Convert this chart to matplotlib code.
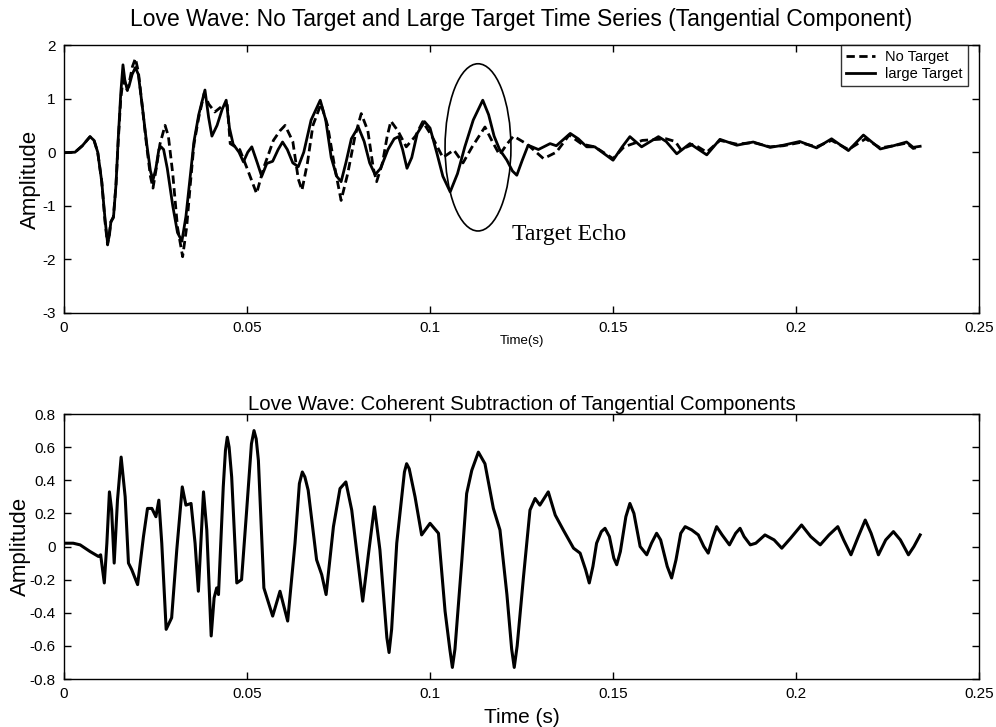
import numpy as np
import matplotlib.pyplot as plt
from matplotlib.patches import Ellipse

# top panel, large target (solid)
t_big = [0, 0.003, 0.005, 0.0071, 0.0082, 0.0092, 0.0103, 0.0112, 0.0119, 0.0124, 0.0128, 0.0135,
         0.0142, 0.0148, 0.0155, 0.0161, 0.0166, 0.0172, 0.0177, 0.0186, 0.0195, 0.0203, 0.0213,
         0.0226, 0.0236, 0.0243, 0.0251, 0.0259, 0.0265, 0.0272, 0.0282, 0.0297, 0.031, 0.0322,
         0.0333, 0.0344, 0.0355, 0.0368, 0.0385, 0.0395, 0.0404, 0.0418, 0.0432, 0.0443, 0.0452,
         0.0462, 0.0478, 0.049, 0.0502, 0.0513, 0.0528, 0.054, 0.0554, 0.057, 0.0585, 0.0597,
         0.061, 0.0625, 0.064, 0.0655, 0.0675, 0.07, 0.0715, 0.073, 0.0745, 0.0757, 0.077, 0.0785,
         0.0804, 0.082, 0.0835, 0.085, 0.0865, 0.0885, 0.0902, 0.0914, 0.0925, 0.0937, 0.095,
         0.0965, 0.0985, 0.1, 0.1018, 0.1035, 0.1055, 0.1075, 0.1095, 0.1118, 0.1144, 0.116,
         0.1175, 0.119, 0.121, 0.1225, 0.1237, 0.1252, 0.1268, 0.1296, 0.1328, 0.1345, 0.1383,
         0.1405, 0.1428, 0.145, 0.150, 0.1525, 0.1546, 0.1578, 0.1624, 0.1645, 0.1674, 0.171,
         0.1756, 0.1792, 0.1838, 0.1883, 0.1929, 0.1965, 0.201, 0.2056, 0.2097, 0.2143, 0.2184,
         0.223, 0.2266, 0.2302, 0.232, 0.2339]
a_big = [-0.01, 0.0, 0.12, 0.29, 0.22, 0.0, -0.55, -1.25, -1.70, -1.55, -1.30, -1.22,
         -0.6, 0.25, 1.1, 1.63, 1.35, 1.18, 1.22, 1.45, 1.58, 1.45, 0.9,
         0.15, -0.35, -0.52, -0.3, 0.05, 0.1, 0.05, -0.3, -1.0, -1.5, -1.66,
         -1.2, -0.5, 0.2, 0.7, 1.16, 0.65, 0.3, 0.5, 0.8, 0.97, 0.45,
         0.15, 0.0, -0.18, 0.0, 0.1, -0.2, -0.45, -0.21, -0.17, 0.05, 0.19,
         0.05, -0.2, -0.27, 0.0, 0.6, 0.97, 0.6, -0.1, -0.45, -0.55, -0.2, 0.25,
         0.47, 0.2, -0.2, -0.42, -0.3, 0.05, 0.25, 0.29, 0.05, -0.3, -0.1,
         0.35, 0.57, 0.45, 0.0, -0.45, -0.74, -0.4, 0.1, 0.6, 0.97, 0.7,
         0.3, 0.05, -0.15, -0.35, -0.43, -0.15, 0.13, 0.05, 0.16, 0.12, 0.35,
         0.25, 0.1, 0.1, -0.15, 0.1, 0.29, 0.1, 0.29, 0.2, -0.03, 0.16,
         -0.05, 0.24, 0.13, 0.19, 0.09, 0.13, 0.2, 0.08, 0.25, 0.03, 0.32,
         0.06, 0.12, 0.19, 0.09, 0.11]

# top panel, no target (dashed)
t_none = [0, 0.003, 0.005, 0.0071, 0.0082, 0.0092, 0.0103, 0.0112, 0.0119, 0.0124, 0.0128, 0.0135,
          0.0142, 0.0148, 0.0155, 0.0161, 0.0167, 0.0173, 0.0178, 0.0187, 0.0195, 0.0203, 0.0213,
          0.0226, 0.0236, 0.0243, 0.0252, 0.0262, 0.0276, 0.0285, 0.0297, 0.031, 0.0324, 0.0335,
          0.0345, 0.0355, 0.0368, 0.0383, 0.0395, 0.0412, 0.043, 0.0446, 0.0454, 0.048, 0.050,
          0.0526, 0.0545, 0.0572, 0.059, 0.0604, 0.0625, 0.064, 0.065, 0.0665, 0.068, 0.0702,
          0.072, 0.074, 0.0757, 0.0775, 0.0795, 0.0812, 0.083, 0.0845, 0.0854, 0.087, 0.0883,
          0.0893, 0.0912, 0.0935, 0.096, 0.098, 0.1005, 0.1035, 0.1065, 0.109, 0.1115, 0.115,
          0.117, 0.119, 0.121, 0.1228, 0.1265, 0.131, 0.1345, 0.138, 0.1415, 0.145, 0.150, 0.153,
          0.158, 0.1645, 0.167, 0.1685, 0.172, 0.1756, 0.1792, 0.1838, 0.1883, 0.1929, 0.1965,
          0.201, 0.2056, 0.2097, 0.2143, 0.219, 0.223, 0.2266, 0.2302, 0.232, 0.2339]
a_none = [-0.01, 0.0, 0.12, 0.29, 0.22, 0.0, -0.55, -1.3, -1.73, -1.5, -1.3, -1.2,
          -0.6, 0.2, 1.0, 1.35, 1.25, 1.15, 1.3, 1.6, 1.75, 1.5, 0.9,
          0.1, -0.45, -0.67, -0.3, 0.15, 0.5, 0.3, -0.4, -1.4, -1.95, -1.4,
          -0.6, 0.15, 0.65, 1.1, 0.9, 0.75, 0.85, 0.88, 0.16, 0.05, -0.3,
          -0.77, -0.3, 0.22, 0.4, 0.5, 0.2, -0.5, -0.71, -0.2, 0.5, 0.9,
          0.5, -0.3, -0.9, -0.4, 0.3, 0.72, 0.4, -0.3, -0.55, -0.2, 0.3,
          0.58, 0.4, 0.1, 0.3, 0.57, 0.3, -0.1, 0.04, -0.2, 0.1, 0.47,
          0.2, -0.05, 0.15, 0.3, 0.15, -0.12, 0.0, 0.32, 0.15, 0.1, -0.12, 0.1,
          0.22, 0.25, 0.2, 0.05, 0.15, 0.0, 0.22, 0.15, 0.18, 0.1, 0.12,
          0.18, 0.1, 0.22, 0.05, 0.25, 0.08, 0.12, 0.17, 0.07, 0.1]

# bottom panel, coherent subtraction
t_diff = [0, 0.0025, 0.0044, 0.0071, 0.0094, 0.010, 0.011, 0.0117, 0.0124, 0.013, 0.0137, 0.0146,
          0.0156, 0.0167, 0.0176, 0.0185, 0.0201, 0.0217, 0.0228, 0.024, 0.0251, 0.0259, 0.0267,
          0.0279, 0.0294, 0.0308, 0.0323, 0.0333, 0.0347, 0.0358, 0.0367, 0.0381, 0.039, 0.0402,
          0.041, 0.0417, 0.0422, 0.0435, 0.0441, 0.0446, 0.0451, 0.0458, 0.0472, 0.0485, 0.0499,
          0.0512, 0.0519, 0.0525, 0.0531,
          0.0546, 0.057, 0.059, 0.0611, 0.0631, 0.0643, 0.0651, 0.0658, 0.0667, 0.069, 0.0704,
          0.0716, 0.0736, 0.0754, 0.077, 0.0786, 0.0816, 0.0832, 0.0848, 0.0863, 0.0882, 0.0888,
          0.0895, 0.0909, 0.093, 0.0936, 0.0943, 0.0959,
          0.0977, 0.1, 0.1023, 0.1041, 0.1054, 0.1061, 0.1068, 0.1087, 0.11, 0.1114, 0.1132, 0.115,
          0.1173, 0.1191, 0.121, 0.1223, 0.123, 0.1238, 0.1255, 0.1273, 0.1287, 0.13, 0.1323,
          0.1342, 0.1364, 0.1392, 0.141, 0.1425, 0.1435, 0.1445, 0.1455, 0.1468, 0.1478, 0.149,
          0.1502, 0.151, 0.152, 0.1535, 0.1546, 0.1557, 0.1574, 0.1592, 0.1605, 0.1619, 0.163,
          0.1648, 0.166, 0.1672, 0.1685, 0.1697, 0.1715, 0.1733, 0.1748, 0.176, 0.1772, 0.1783,
          0.1798, 0.1818, 0.1835, 0.1847, 0.1858, 0.1875, 0.189, 0.1915, 0.194, 0.1961, 0.1985,
          0.2015, 0.204, 0.2066, 0.209, 0.2114, 0.213, 0.215, 0.217, 0.2189, 0.2205, 0.2225,
          0.2245, 0.2266, 0.2285, 0.2307, 0.2322, 0.2339]
a_diff = [0.02, 0.02, 0.01, -0.03, -0.06, -0.05, -0.22, 0.02, 0.33, 0.22, -0.1, 0.28,
          0.54, 0.3, -0.1, -0.14, -0.23, 0.06, 0.23, 0.23, 0.18, 0.28, 0.02,
          -0.5, -0.43, -0.02, 0.36, 0.25, 0.26, 0.02, -0.27, 0.33, 0.1, -0.54,
          -0.31, -0.25, -0.29, 0.36, 0.58, 0.66, 0.6, 0.42, -0.22, -0.2, 0.22,
          0.62, 0.7, 0.65, 0.52,
          -0.25, -0.42, -0.27, -0.45, 0.02, 0.38, 0.45, 0.42, 0.34, -0.08, -0.17,
          -0.29, 0.12, 0.35, 0.39, 0.22, -0.33, -0.04, 0.24, -0.02, -0.55, -0.64,
          -0.5, 0.02, 0.45, 0.5, 0.47, 0.3,
          0.07, 0.14, 0.08, -0.39, -0.62, -0.73, -0.62, -0.08, 0.32, 0.46, 0.57, 0.5,
          0.23, 0.1, -0.29, -0.62, -0.73, -0.6, -0.19, 0.22, 0.29, 0.25, 0.33,
          0.19, 0.1, -0.01, -0.04, -0.14, -0.22, -0.12, 0.02, 0.09, 0.11, 0.06,
          -0.07, -0.11, -0.03, 0.18, 0.26, 0.2, 0.0, -0.05, 0.02, 0.08, 0.04,
          -0.12, -0.19, -0.08, 0.08, 0.12, 0.1, 0.07, 0.0, -0.04, 0.05, 0.12,
          0.07, 0.01, 0.08, 0.11, 0.06, 0.01, 0.02, 0.07, 0.04, -0.01, 0.05,
          0.13, 0.06, 0.01, 0.07, 0.12, 0.04, -0.05, 0.06, 0.16, 0.08, -0.05,
          0.04, 0.09, 0.04, -0.05, 0.0, 0.07]

xticks = [0, 0.05, 0.1, 0.15, 0.2, 0.25]
xticklabels = ['0', '0.05', '0.1', '0.15', '0.2', '0.25']
yticks_top = [-3, -2, -1, 0, 1, 2]
yticks_bot = [-0.8, -0.6, -0.4, -0.2, 0, 0.2, 0.4, 0.6, 0.8]
yticklabels_bot = ['-0.8', '-0.6', '-0.4', '-0.2', '0', '0.2', '0.4', '0.6', '0.8']

plt.rcParams['font.family'] = ['Liberation Sans', 'DejaVu Sans']
plt.rcParams['axes.unicode_minus'] = False

fig = plt.figure(figsize=(9.96, 7.27), dpi=100)
ax1 = fig.add_axes([0.0643, 0.5695, 0.9187, 0.3686])
ax2 = fig.add_axes([0.0643, 0.066, 0.9187, 0.3645])

for ax in (ax1, ax2):
    ax.tick_params(direction='in', top=True, right=True, length=5, width=1,
                   labelsize=11, pad=6)
    ax.set_xlim(0, 0.25)
    ax.set_xticks(xticks)
    ax.set_xticklabels(xticklabels)
    for s in ax.spines.values():
        s.set_linewidth(1.0)

ax1.plot(t_none, a_none, color='k', lw=2.0, ls=(0, (3, 1.6)), label='No Target',
         dash_joinstyle='round')
ax1.plot(t_big, a_big, color='k', lw=2.0, label='large Target', solid_joinstyle='round')
ax1.set_ylim(-3, 2)
ax1.set_yticks(yticks_top)
ax1.set_title('Love Wave: No Target and Large Target Time Series (Tangential Component)',
              fontsize=16.5, pad=14)
ax1.set_xlabel('Time(s)', fontsize=9.5, labelpad=0)
ax1.set_ylabel('Amplitude', fontsize=16, labelpad=1)
ax1.add_patch(Ellipse((0.1131, 0.09), 0.018, 3.12, fill=False, ec='k', lw=1.2))
ax1.text(0.1223, -1.63, 'Target Echo', family=['Liberation Serif', 'DejaVu Serif'],
         fontsize=17)
leg = ax1.legend(loc='upper right', fontsize=10.5, frameon=True, fancybox=False,
                 borderaxespad=0.0, bbox_to_anchor=(0.988, 1.0), handlelength=2.0,
                 borderpad=0.35, labelspacing=0.2, handletextpad=0.7)
leg.get_frame().set_edgecolor('k')
leg.get_frame().set_linewidth(1.0)

ax2.plot(t_diff, a_diff, color='k', lw=2.2, solid_joinstyle='round')
ax2.set_ylim(-0.8, 0.8)
ax2.set_yticks(yticks_bot)
ax2.set_yticklabels(yticklabels_bot)
ax2.set_title('Love Wave: Coherent Subtraction of Tangential Components', fontsize=14.7, pad=3)
ax2.set_xlabel('Time (s)', fontsize=15, labelpad=5)
ax2.set_ylabel('Amplitude', fontsize=16, labelpad=-1)

fig.savefig('out.png', dpi=100)
